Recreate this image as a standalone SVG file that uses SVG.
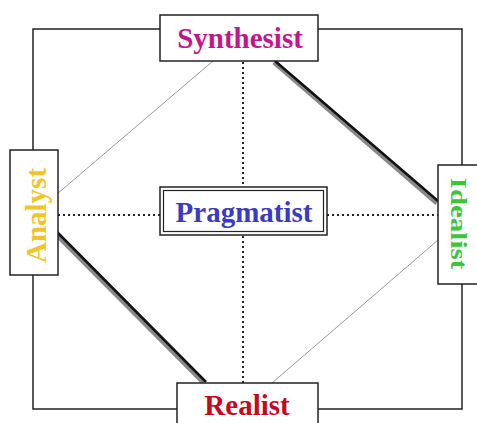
<svg xmlns="http://www.w3.org/2000/svg" width="477" height="423" viewBox="0 0 477 423">
<style>
.box{fill:#fff;stroke:#222;stroke-width:1.5}
.lbl{font-family:"Liberation Serif","Times New Roman",serif;font-weight:bold;font-size:29px;text-anchor:middle}
.dot{stroke:#222;stroke-width:2;stroke-dasharray:2 3;fill:none}
.thin{stroke:#999;stroke-width:1;fill:none}
.thickg{stroke:#888;stroke-width:5;fill:none}
.thickb{stroke:#111;stroke-width:2.5;fill:none}
</style>
<rect width="477" height="423" fill="#fff"/>
<g id="connectors">
<rect x="33" y="29" width="429" height="380" fill="none" stroke="#222" stroke-width="1.5"/>
<line class="dot" x1="243" y1="62" x2="243" y2="187"/>
<line class="dot" x1="243" y1="236" x2="243" y2="383"/>
<line class="dot" x1="58" y1="215" x2="160" y2="215"/>
<line class="dot" x1="327" y1="215" x2="438" y2="215"/>
<line class="thin" x1="213" y1="61" x2="57" y2="194"/>
<line class="thin" x1="438" y1="240" x2="272" y2="383"/>
<line class="thickg" x1="274" y1="62" x2="437" y2="203"/>
<line class="thickb" x1="275" y1="61" x2="438" y2="201"/>
<line class="thickg" x1="56" y1="234" x2="204" y2="383"/>
<line class="thickb" x1="57" y1="232" x2="206" y2="382"/>
</g>
<g id="synthesist">
<rect class="box" x="160" y="15" width="158" height="46"/>
<text class="lbl" x="240" y="48" fill="#c4168c">Synthesist</text>
</g>
<g id="analyst">
<rect class="box" x="10" y="150" width="48" height="125"/>
<text class="lbl" transform="translate(46,215.5) rotate(-90)" x="0" y="0" fill="#f2c42a">Analyst</text>
</g>
<g id="idealist">
<rect class="box" x="438" y="165" width="45" height="119"/>
<text class="lbl" transform="translate(451,223.5) rotate(90) scale(1,0.8)" x="0" y="0" fill="#3cc43c">Idealist</text>
</g>
<g id="pragmatist">
<rect class="box" x="160" y="187" width="167" height="48"/>
<rect x="163.5" y="190.5" width="160" height="41" fill="none" stroke="#222" stroke-width="1.2"/>
<text class="lbl" x="244" y="222" fill="#3a3ac4">Pragmatist</text>
</g>
<g id="realist">
<rect class="box" x="177" y="383" width="141" height="45"/>
<text class="lbl" x="247" y="415" fill="#c40a1e">Realist</text>
</g>
</svg>
